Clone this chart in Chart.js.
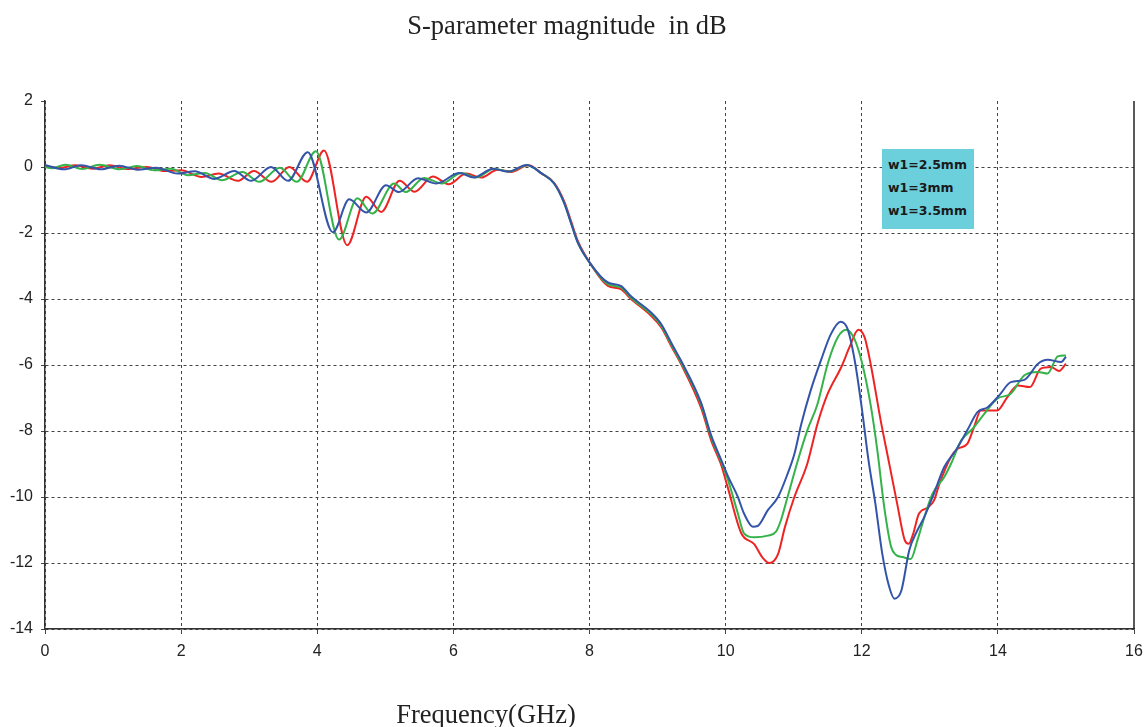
<!DOCTYPE html>
<html>
<head>
  <meta charset="UTF-8">
  <title>S-parameter magnitude in dB</title>
  <script src="https://cdn.jsdelivr.net/npm/chart.js"></script>
  <style>
    body {
      margin: 0;
      background: #fff;
    }

    #wrap {
      position: relative;
      width: 1146px;
      height: 727px;
    }

    .title, .xlabel {
      position: absolute;
      transform: translateX(-50%);
      font-family: "Liberation Serif", "Times New Roman", serif;
      font-size: 26.5px;
      line-height: 30px;
      color: #222;
      white-space: pre;
    }

    .title { left: 567px; top: 10px; }
    .xlabel { left: 486px; top: 699px; }

    .legend-box {
      position: absolute;
      left: 882px;
      top: 149px;
      width: 86px;
      height: 76px;
      padding: 4px 0 0 6px;
      background: #6ccfdc;
      font-family: "DejaVu Sans", sans-serif;
      font-weight: bold;
      font-size: 12.5px;
      line-height: 23px;
      color: #1a1a1a;
    }
  </style>
</head>
<body>

<div id="wrap">
  <canvas id="sparamChart"></canvas>
  <div class="title">S-parameter magnitude  in dB</div>
  <div class="xlabel">Frequency(GHz)</div>
  <div class="legend-box">
    <div>w1=2.5mm</div>
    <div>w1=3mm</div>
    <div>w1=3.5mm</div>
  </div>
</div>

<script>
  // axis ticks
  const xTicks = [0, 2, 4, 6, 8, 10, 12, 14, 16];
  const yTicks = [-14, -12, -10, -8, -6, -4, -2, 0, 2];

  // w1 = 3.5mm (blue)
  const freqBlue = [0, 0.28, 0.53, 0.82, 1.09, 1.36, 1.63, 1.95, 2.2, 2.49, 2.78, 3.03, 3.32, 3.57, 3.86,
    4.23, 4.47, 4.72, 5.01, 5.2, 5.48, 5.75, 6.09, 6.3, 6.58, 6.8, 7.08, 7.3, 7.48, 7.63, 7.73, 7.83,
    8.02, 8.27, 8.46, 8.61, 8.9, 9.05, 9.22, 9.34, 9.64, 9.79, 9.93, 10.03, 10.18, 10.27, 10.4, 10.47,
    10.62, 10.77, 10.91, 11.01, 11.11, 11.25, 11.4, 11.55, 11.69, 11.79, 11.9, 12.0, 12.1, 12.2, 12.3,
    12.4, 12.48, 12.58, 12.7, 12.82, 12.92, 13.06, 13.21, 13.38, 13.55, 13.7, 13.85, 14.02, 14.19,
    14.39, 14.59, 14.73, 14.93, 15.0];
  const dbBlue = [0.06, -0.07, 0.05, -0.07, 0.04, -0.08, -0.02, -0.2, -0.13, -0.36, -0.12, -0.42, 0.0, -0.42, 0.45,
    -1.98, -0.98, -1.38, -0.55, -0.76, -0.34, -0.5, -0.18, -0.32, -0.05, -0.14, 0.06, -0.2, -0.5, -1.1, -1.71, -2.3,
    -2.95, -3.5, -3.6, -3.92, -4.4, -4.75, -5.4, -5.85, -7.15, -8.15, -8.85, -9.35, -10.0, -10.5, -10.9, -10.88,
    -10.4, -10.0, -9.3, -8.7, -7.8, -6.77, -5.86, -5.05, -4.69, -4.9, -5.9, -7.3, -8.9, -10.2, -11.7,
    -12.7, -13.08, -12.85, -11.6, -11.0, -10.6, -9.9, -9.1, -8.59, -7.98, -7.43, -7.28, -6.92, -6.52,
    -6.45, -5.96, -5.84, -5.91, -5.75];

  // w1 = 3mm (green)
  const freqGreen = [0, 0.1, 0.3, 0.55, 0.8, 1.1, 1.35, 1.6, 1.85, 2.1, 2.35, 2.6, 2.9, 3.15, 3.45, 3.7, 3.98,
    4.32, 4.59, 4.81, 5.13, 5.3, 5.57, 5.83, 6.12, 6.33, 6.6, 6.82, 7.08, 7.3, 7.48, 7.63, 7.73, 7.83,
    8.02, 8.27, 8.46, 8.61, 8.9, 9.05, 9.22, 9.34, 9.64, 9.79, 9.93, 10.03, 10.18, 10.27, 10.42, 10.62,
    10.74, 10.81, 10.91, 11.06, 11.2, 11.35, 11.5, 11.65, 11.77, 11.89, 12.0, 12.13, 12.23, 12.33, 12.43,
    12.5, 12.6, 12.72, 12.82, 12.92, 13.04, 13.21, 13.31, 13.46, 13.63, 13.8, 13.99, 14.19, 14.39, 14.59,
    14.73, 14.88, 15.0];
  const dbGreen = [0.0, -0.04, 0.07, -0.06, 0.07, -0.07, 0.03, -0.1, -0.05, -0.25, -0.18, -0.4, -0.15, -0.45, -0.02, -0.45, 0.48,
    -2.2, -0.95, -1.41, -0.5, -0.76, -0.33, -0.5, -0.18, -0.32, -0.05, -0.14, 0.05, -0.2, -0.5, -1.1, -1.7, -2.3,
    -2.95, -3.55, -3.65, -3.96, -4.45, -4.8, -5.45, -5.9, -7.2, -8.2, -8.9, -9.45, -10.5, -11.1, -11.22, -11.17,
    -11.05, -10.72, -10.0, -8.9, -7.98, -7.18, -5.96, -5.15, -4.93, -5.2, -5.9, -7.2, -8.6, -10.3, -11.5,
    -11.75, -11.82, -11.88, -11.3, -10.61, -9.9, -9.4, -9.0, -8.29, -7.93, -7.48, -7.02, -6.87, -6.31, -6.21,
    -6.26, -5.74, -5.71];

  // w1 = 2.5mm (red)
  const freqRed = [0, 0.2, 0.45, 0.7, 0.95, 1.2, 1.5, 1.75, 2.0, 2.3, 2.55, 2.83, 3.07, 3.33, 3.59, 3.85, 4.1,
    4.44, 4.72, 4.94, 5.21, 5.43, 5.7, 5.93, 6.19, 6.41, 6.65, 6.85, 7.1, 7.3, 7.48, 7.63, 7.73, 7.83,
    8.02, 8.27, 8.46, 8.61, 8.9, 9.05, 9.22, 9.34, 9.64, 9.79, 9.93, 10.03, 10.23, 10.42, 10.54, 10.64,
    10.77, 10.87, 11.01, 11.2, 11.35, 11.5, 11.7, 11.82, 11.95, 12.04, 12.13, 12.28, 12.4, 12.52, 12.63,
    12.69, 12.75, 12.84, 12.97, 13.06, 13.14, 13.31, 13.41, 13.55, 13.65, 13.75, 13.99, 14.14, 14.29, 14.47,
    14.63, 14.78, 14.9, 15.0];
  const dbRed = [0.02, -0.03, 0.05, -0.05, 0.05, -0.06, 0.0, -0.12, -0.1, -0.3, -0.2, -0.42, -0.12, -0.45, 0.0, -0.45, 0.5,
    -2.37, -0.9, -1.36, -0.42, -0.75, -0.29, -0.52, -0.2, -0.32, -0.08, -0.15, 0.05, -0.2, -0.48, -1.05, -1.65, -2.25,
    -2.95, -3.6, -3.7, -4.0, -4.5, -4.85, -5.5, -5.95, -7.3, -8.3, -9.0, -9.7, -11.1, -11.43, -11.83, -12.0,
    -11.73, -10.92, -10.0, -8.99, -7.78, -6.87, -6.06, -5.46, -4.93, -5.15, -5.96, -7.7, -8.95, -10.2, -11.3,
    -11.42, -11.15, -10.51, -10.32, -10.11, -9.61, -8.79, -8.54, -8.39, -7.88, -7.38, -7.38, -6.97, -6.62, -6.67,
    -6.11, -6.06, -6.18, -5.96];

  const toPoints = (xs, ys) => xs.map((x, i) => ({ x: x, y: ys[i] }));

  const gridGrey = '#444';

  // solid frame line on the right side (the plot has no top line)
  const rightFrame = {
    id: 'rightFrame',
    afterDatasetsDraw(chart) {
      const { ctx, chartArea } = chart;
      ctx.save();
      ctx.strokeStyle = '#222';
      ctx.lineWidth = 1.5;
      ctx.beginPath();
      ctx.moveTo(chartArea.right, chartArea.top);
      ctx.lineTo(chartArea.right, chartArea.bottom);
      ctx.stroke();
      ctx.restore();
    }
  };

  const lineStyle = {
    borderWidth: 2,
    pointRadius: 0,
    fill: false,
    cubicInterpolationMode: 'monotone'
  };

  // first dataset ends up on top, so blue goes first
  new Chart(document.getElementById('sparamChart'), {
    type: 'line',
    data: {
      datasets: [
        { label: 'w1=3.5mm', data: toPoints(freqBlue, dbBlue), borderColor: '#3354a8', ...lineStyle },
        { label: 'w1=3mm', data: toPoints(freqGreen, dbGreen), borderColor: '#35b34a', ...lineStyle },
        { label: 'w1=2.5mm', data: toPoints(freqRed, dbRed), borderColor: '#ee2424', ...lineStyle }
      ]
    },
    options: {
      responsive: true,
      maintainAspectRatio: false,
      animation: false,
      layout: {
        padding: { top: 101, right: 12, bottom: 58, left: 0 }
      },
      plugins: {
        legend: { display: false },
        tooltip: { enabled: false },
        title: { display: false }
      },
      scales: {
        x: {
          type: 'linear',
          min: 0,
          max: 16,
          // keep the edge labels from pushing the plot area in
          afterFit: scale => {
            scale.height = 40;
            scale.paddingLeft = 0;
            scale.paddingRight = 0;
          },
          afterBuildTicks: scale => { scale.ticks = xTicks.map(v => ({ value: v })); },
          ticks: {
            color: '#222',
            padding: 8,
            font: { family: 'Liberation Sans', size: 16 }
          },
          grid: {
            color: c => (c.tick && c.tick.value === 16) ? 'rgba(0,0,0,0)' : gridGrey,
            lineWidth: 1,
            tickLength: 5,
            tickColor: gridGrey,
            tickBorderDash: []
          },
          border: { display: true, color: '#333', width: 1.5, dash: [3, 3] }
        },
        y: {
          min: -14,
          max: 2,
          afterFit: scale => { scale.width = 45; },
          afterBuildTicks: scale => { scale.ticks = yTicks.map(v => ({ value: v })); },
          ticks: {
            color: '#222',
            padding: 8,
            font: { family: 'Liberation Sans', size: 16 }
          },
          grid: {
            color: c => (c.tick && c.tick.value === 2) ? 'rgba(0,0,0,0)' : gridGrey,
            lineWidth: 1,
            tickLength: 4,
            tickColor: gridGrey,
            tickBorderDash: []
          },
          border: { display: true, color: '#333', width: 1.5, dash: [3, 3] }
        }
      }
    },
    plugins: [rightFrame]
  });
</script>

</body>
</html>
